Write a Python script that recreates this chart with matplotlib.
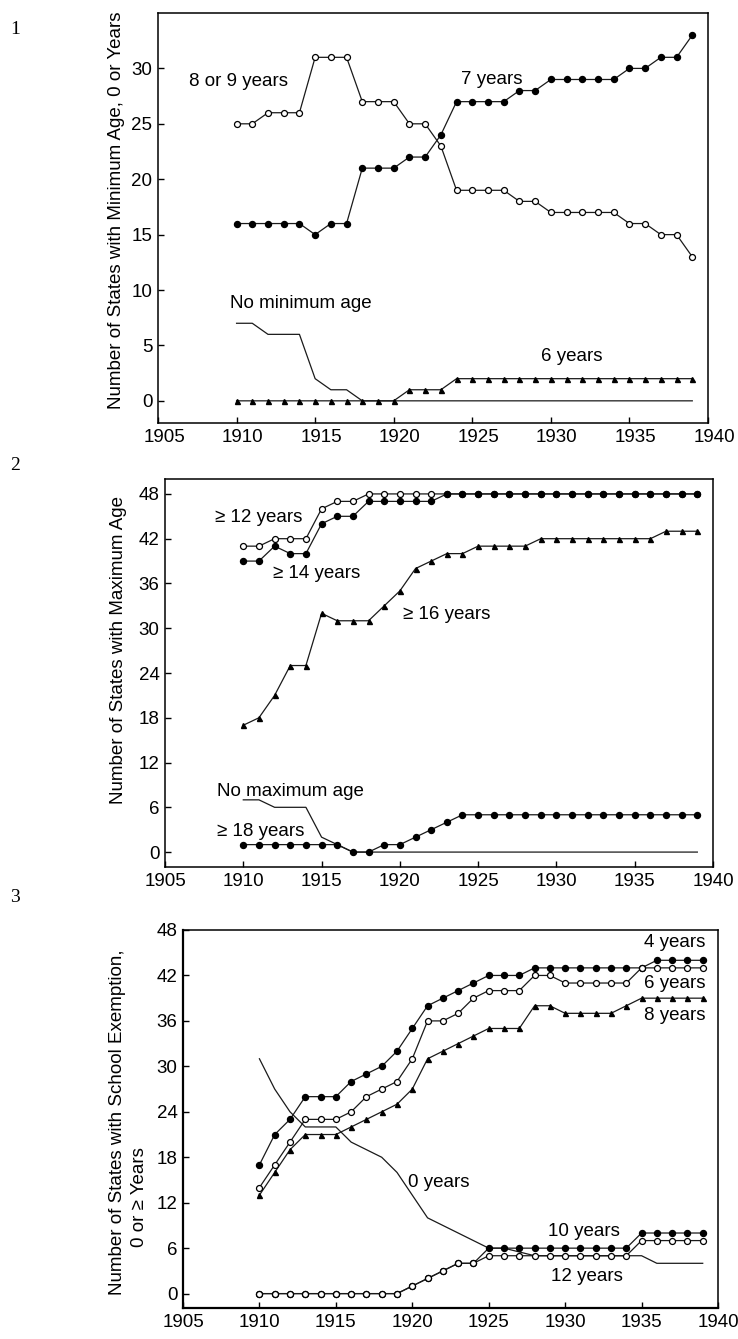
import matplotlib
matplotlib.use("Agg")
import matplotlib.pyplot as plt
from matplotlib.transforms import ScaledTranslation

plt.rcParams['font.family'] = ['Liberation Sans', 'DejaVu Sans']

years = [1910, 1911, 1912, 1913, 1914, 1915, 1916, 1917, 1918, 1919,
         1920, 1921, 1922, 1923, 1924, 1925, 1926, 1927, 1928, 1929,
         1930, 1931, 1932, 1933, 1934, 1935, 1936, 1937, 1938, 1939]
xticks = [1905, 1910, 1915, 1920, 1925, 1930, 1935, 1940]

# Panel 1: minimum age
min_8or9 = [25, 25, 26, 26, 26, 31, 31, 31, 27, 27, 27, 25, 25, 23, 19,
            19, 19, 19, 18, 18, 17, 17, 17, 17, 17, 16, 16, 15, 15, 13]
min_7 = [16, 16, 16, 16, 16, 15, 16, 16, 21, 21, 21, 22, 22, 24, 27,
         27, 27, 27, 28, 28, 29, 29, 29, 29, 29, 30, 30, 31, 31, 33]
min_6 = [0, 0, 0, 0, 0, 0, 0, 0, 0, 0, 0, 1, 1, 1, 2,
         2, 2, 2, 2, 2, 2, 2, 2, 2, 2, 2, 2, 2, 2, 2]
min_none = [7, 7, 6, 6, 6, 2, 1, 1, 0, 0, 0, 0, 0, 0, 0,
            0, 0, 0, 0, 0, 0, 0, 0, 0, 0, 0, 0, 0, 0, 0]

# Panel 2: maximum age
max_12 = [41, 41, 42, 42, 42, 46, 47, 47, 48, 48, 48, 48, 48, 48, 48,
          48, 48, 48, 48, 48, 48, 48, 48, 48, 48, 48, 48, 48, 48, 48]
max_14 = [39, 39, 41, 40, 40, 44, 45, 45, 47, 47, 47, 47, 47, 48, 48,
          48, 48, 48, 48, 48, 48, 48, 48, 48, 48, 48, 48, 48, 48, 48]
max_16 = [17, 18, 21, 25, 25, 32, 31, 31, 31, 33, 35, 38, 39, 40, 40,
          41, 41, 41, 41, 42, 42, 42, 42, 42, 42, 42, 42, 43, 43, 43]
max_18 = [1, 1, 1, 1, 1, 1, 1, 0, 0, 1, 1, 2, 3, 4, 5,
          5, 5, 5, 5, 5, 5, 5, 5, 5, 5, 5, 5, 5, 5, 5]
max_none = [7, 7, 6, 6, 6, 2, 1, 0, 0, 0, 0, 0, 0, 0, 0,
            0, 0, 0, 0, 0, 0, 0, 0, 0, 0, 0, 0, 0, 0, 0]

# Panel 3: school exemption
ex_4 = [17, 21, 23, 26, 26, 26, 28, 29, 30, 32, 35, 38, 39, 40, 41,
        42, 42, 42, 43, 43, 43, 43, 43, 43, 43, 43, 44, 44, 44, 44]
ex_6 = [14, 17, 20, 23, 23, 23, 24, 26, 27, 28, 31, 36, 36, 37, 39,
        40, 40, 40, 42, 42, 41, 41, 41, 41, 41, 43, 43, 43, 43, 43]
ex_8 = [13, 16, 19, 21, 21, 21, 22, 23, 24, 25, 27, 31, 32, 33, 34,
        35, 35, 35, 38, 38, 37, 37, 37, 37, 38, 39, 39, 39, 39, 39]
ex_0 = [31, 27, 24, 22, 22, 22, 20, 19, 18, 16, 13, 10, 9, 8, 7,
        6, 6, 5.5, 5, 5, 5, 5, 5, 5, 5, 5, 4, 4, 4, 4]
ex_10 = [0, 0, 0, 0, 0, 0, 0, 0, 0, 0, 1, 2, 3, 4, 4,
         6, 6, 6, 6, 6, 6, 6, 6, 6, 6, 8, 8, 8, 8, 8]
ex_12 = [0, 0, 0, 0, 0, 0, 0, 0, 0, 0, 1, 2, 3, 4, 4,
         5, 5, 5, 5, 5, 5, 5, 5, 5, 5, 7, 7, 7, 7, 7]

W, H = 738, 1339
fig = plt.figure(figsize=(W / 100, H / 100), dpi=100)


def axes_px(left, top, right, bottom):
    return fig.add_axes([left / W, 1 - bottom / H, (right - left) / W, (bottom - top) / H])


LC = '#1a1a1a'
LW = 0.9
FS = 13.5


def filled(ax, y, z=3):
    ax.plot(years, y, '-', color=LC, lw=LW, marker='o', ms=4.3, mfc='black', mec='black', zorder=z)


def opened(ax, y, z=3):
    ax.plot(years, y, '-', color=LC, lw=LW, marker='o', ms=4.3, mfc='white', mec='black', mew=0.9, zorder=z)


def tri(ax, y, z=3):
    ax.plot(years, y, '-', color=LC, lw=LW, marker='^', ms=3.6, mfc='black', mec='black', zorder=z)


def plain(ax, y, z=2):
    ax.plot(years, y, '-', color=LC, lw=LW, zorder=z)


def style(ax, ylim, yticks):
    ax.set_xlim(1905, 1940)
    ax.set_ylim(*ylim)
    ax.set_xticks(xticks)
    ax.set_yticks(yticks)
    ax.tick_params(direction='in', length=4, width=1, labelsize=FS, pad=4)
    for s in ax.spines.values():
        s.set_linewidth(1.1)


# Panel 1
ax1 = axes_px(158, 13, 708, 423)
style(ax1, (-2, 35), [0, 5, 10, 15, 20, 25, 30])
plain(ax1, min_none)
tri(ax1, min_6)
opened(ax1, min_8or9)
filled(ax1, min_7)
ax1.text(1907.0, 28.8, '8 or 9 years', fontsize=FS, va='center', ha='left')
ax1.text(1924.3, 29.0, '7 years', fontsize=FS, va='center', ha='left')
ax1.text(1909.6, 8.8, 'No minimum age', fontsize=FS, va='center', ha='left')
ax1.text(1929.4, 4.0, '6 years', fontsize=FS, va='center', ha='left')
shift = ScaledTranslation(6 / 100, 0, fig.dpi_scale_trans)
for lab in ax1.get_xticklabels():
    lab.set_transform(lab.get_transform() + shift)

# Panel 2
ax2 = axes_px(165, 479, 713, 867)
style(ax2, (-2, 50), [0, 6, 12, 18, 24, 30, 36, 42, 48])
plain(ax2, max_none)
tri(ax2, max_16)
opened(ax2, max_12)
filled(ax2, max_14, z=4)
filled(ax2, max_18)
ax2.text(1908.2, 44.9, '\u2265 12 years', fontsize=FS, va='center', ha='left')
ax2.text(1911.9, 37.3, '\u2265 14 years', fontsize=FS, va='center', ha='left')
ax2.text(1920.2, 31.9, '\u2265 16 years', fontsize=FS, va='center', ha='left')
ax2.text(1908.3, 8.1, 'No maximum age', fontsize=FS, va='center', ha='left')
ax2.text(1908.3, 2.7, '\u2265 18 years', fontsize=FS, va='center', ha='left')

# Panel 3
ax3 = axes_px(183, 930, 718, 1308)
style(ax3, (-1.9, 48), [0, 6, 12, 18, 24, 30, 36, 42, 48])
ax3.spines['left'].set_linewidth(1.6)
ax3.spines['bottom'].set_linewidth(1.6)
plain(ax3, ex_0)
tri(ax3, ex_8)
filled(ax3, ex_10)
filled(ax3, ex_4)
opened(ax3, ex_6, z=4)
opened(ax3, ex_12, z=4)
ax3.text(1939.2, 46.3, '4 years', fontsize=FS, va='center', ha='right')
ax3.text(1939.2, 41.0, '6 years', fontsize=FS, va='center', ha='right')
ax3.text(1939.2, 36.7, '8 years', fontsize=FS, va='center', ha='right')
ax3.text(1919.7, 14.7, '0 years', fontsize=FS, va='center', ha='left')
ax3.text(1928.9, 8.2, '10 years', fontsize=FS, va='center', ha='left')
ax3.text(1929.1, 2.3, '12 years', fontsize=FS, va='center', ha='left')

# y labels
fig.text(117 / W, 1 - 210 / H, 'Number of States with Minimum Age, 0 or Years',
         rotation=90, fontsize=FS, ha='center', va='center')
fig.text(119 / W, 1 - 650 / H, 'Number of States with Maximum Age',
         rotation=90, fontsize=FS, ha='center', va='center')
fig.text(118 / W, 1 - 1122 / H, 'Number of States with School Exemption,',
         rotation=90, fontsize=FS, ha='center', va='center')
fig.text(139 / W, 1 - 1197 / H, '0 or \u2265 Years',
         rotation=90, fontsize=FS, ha='center', va='center')

# panel numbers
for lab, yy in [('1', 30), ('2', 465), ('3', 898)]:
    fig.text(15 / W, 1 - yy / H, lab, fontsize=14, family='Liberation Serif', ha='center', va='center')

fig.savefig('out.png', dpi=100)
